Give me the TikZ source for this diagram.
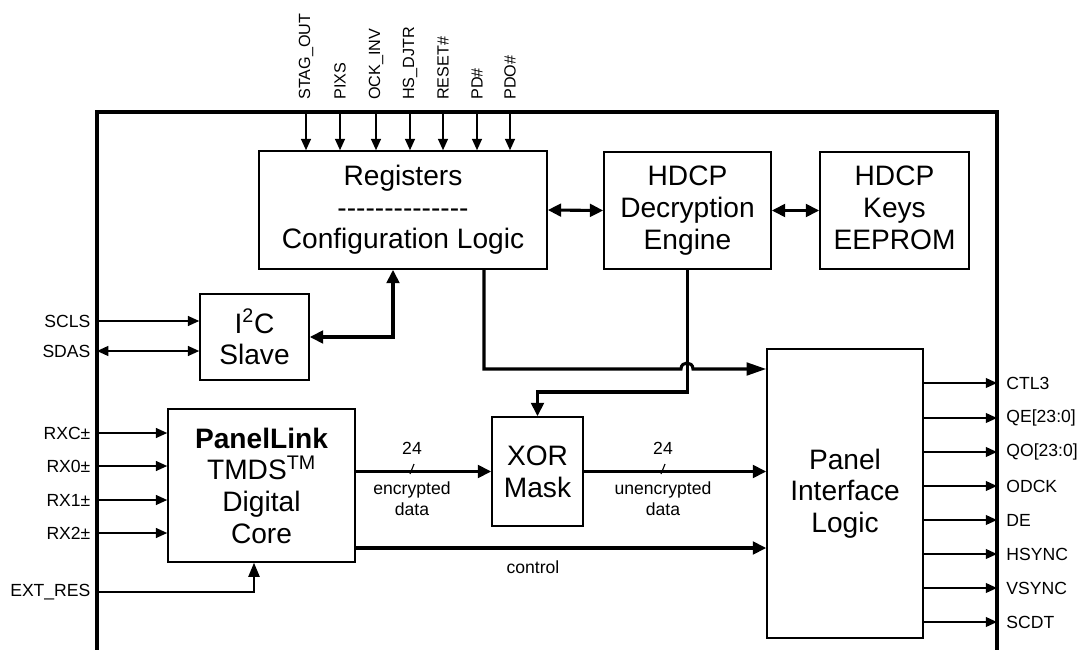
\documentclass[tikz,border=0pt]{standalone}
\usepackage{fontspec}
\setmainfont{Liberation Sans}[Ligatures=TeXOff]
\usetikzlibrary{arrows.meta,positioning,calc}

\begin{document}
\begin{tikzpicture}[x=0.025cm,y=-0.025cm]
    \tikzstyle{blk}=[draw,line width=1.1pt,align=center,inner sep=0pt,font=\fontsize{20pt}{22.5pt}\selectfont]
    \tikzstyle{lin}=[anchor=east,inner xsep=4.5pt,inner ysep=0pt,font=\fontsize{12.5pt}{15pt}\selectfont]
    \tikzstyle{lout}=[anchor=west,inner xsep=6.5pt,inner ysep=0pt,font=\fontsize{12.5pt}{15pt}\selectfont]
    \tikzstyle{ltop}=[anchor=west,rotate=90,inner xsep=8.5pt,inner ysep=0pt,font=\fontsize{11.5pt}{13pt}\selectfont]
    \tikzstyle{txt}=[align=center,inner sep=0pt,font=\fontsize{12.5pt}{15pt}\selectfont]
    \tikzstyle{sig}=[line width=1.1pt,-{Triangle[length=8pt,width=7pt]}]
    \tikzstyle{sig2}=[line width=1.1pt,{Triangle[length=8pt,width=7pt]}-{Triangle[length=8pt,width=7pt]}]
    \tikzstyle{bus}=[line width=2.2pt,-{Triangle[length=9.5pt,width=9pt]}]
    \tikzstyle{bus2}=[line width=2.2pt,{Triangle[length=9.5pt,width=9pt]}-{Triangle[length=9.5pt,width=9pt]}]
    \useasboundingbox (0,0) rectangle (1079,650);
    % chip outline
    \draw[line width=3pt] (97,650) -- (97,112) -- (997,112) -- (997,650);
    % blocks
    \node[blk,minimum width=7.2cm,minimum height=2.95cm] (reg) at (403,210) {Registers\\--------------\\Configuration Logic};
    \node[blk,minimum width=4.175cm,minimum height=2.925cm] (eng) at (687.5,210.5) {HDCP\\Decryption\\Engine};
    \node[blk,minimum width=3.725cm,minimum height=2.925cm] (keys) at (894.5,210.5) {HDCP\\Keys\\EEPROM\vphantom{g}};
    \node[blk,minimum width=2.725cm,minimum height=2.15cm] (i2c) at (254.5,337) {I\textsuperscript{2}C\\Slave};
    \node[blk,minimum width=4.675cm,minimum height=3.825cm] (plink) at (261.5,485.5) {\textbf{PanelLink}\\TMDS\textsuperscript{TM}\\Digital\\Core};
    \node[blk,minimum width=2.275cm,minimum height=2.725cm] (xor) at (537.5,471.5) {XOR\\Mask};
    \node[blk,minimum width=3.9cm,minimum height=7.225cm] (panel) at (845,493.5) {Panel\\Interface\\Logic};
    % register pins
    \foreach \x/\t [count=\i] in {306/STAG\_OUT,340/PIXS,376/OCK\_INV,410/HS\_DJTR,443/RESET\#,477/PD\#,510/PDO\#} {
      \node[ltop] (t\i) at (\x,112) {\t};
      \draw[sig] (t\i.west) -- (reg.north -| t\i.west);
    }
    % inputs
    \node[lin] (scls) at (97,321) {SCLS};
    \node[lin] (sdas) at (97,351) {SDAS};
    \draw[sig] (scls.east) -- (i2c.west |- scls.east);
    \draw[sig2] (sdas.east) -- (i2c.west |- sdas.east);
    \foreach \y/\t/\n in {433/RXC/rxc,466/RX0/rx0,500/RX1/rx1,533/RX2/rx2} {
      \node[lin] (\n) at (97,\y) {\t±};
      \draw[sig] (\n.east) -- (plink.west |- \n.east);
    }
    \node[lin] (ext) at (97,592) {EXT\_RES};
    \draw[sig,-{Triangle[length=10pt,width=8pt]}] (ext.east) -| (plink.south -| 254,0);
    % outputs
    \foreach \y/\t [count=\i] in {383/CTL3,418/QE[23:0],452/QO[23:0],486/ODCK,520/DE,554/HSYNC,588/VSYNC,622/SCDT} {
      \node[lout] (o\i) at (997,\y) {\t};
      \draw[sig] (panel.east |- o\i.west) -- (o\i.west);
    }
    % internal paths
    \draw[bus2] (reg.east) -- (eng.west);
    \draw[bus2] (eng.east) -- (keys.west);
    \draw[bus2] (i2c.east) -| (reg.south -| 393,0);
    \draw[bus,-{Triangle[length=14pt,width=9pt]}] (reg.south -| 484,0) -- (484,369) -- (681,369)
      .. controls (681,361) and (693,361) .. (693,369) -- (panel.west |- 0,369);
    \draw[bus] (eng.south) -- (eng.south |- 0,392) -| (xor.north);
    \draw[bus] (plink.east |- xor.west) -- (xor.west);
    \draw[bus] (xor.east) -- (panel.west |- xor.east);
    \draw[bus] (plink.east |- 0,548) -- (panel.west |- 0,548);
    % bus labels
    \node[txt] (w1) at (412,448) {24};
    \node[txt] (d1) at (412,499) {encrypted\\data};
    \node[txt] (w2) at (663,448) {24};
    \node[txt] (d2) at (663,499) {unencrypted\\data};
    \node[txt] (ctl) at (533,567) {control};
    \draw[line width=0.8pt] (410,474) -- (414,464);
    \draw[line width=0.8pt] (661,474) -- (665,464);
\end{tikzpicture}
\end{document}
